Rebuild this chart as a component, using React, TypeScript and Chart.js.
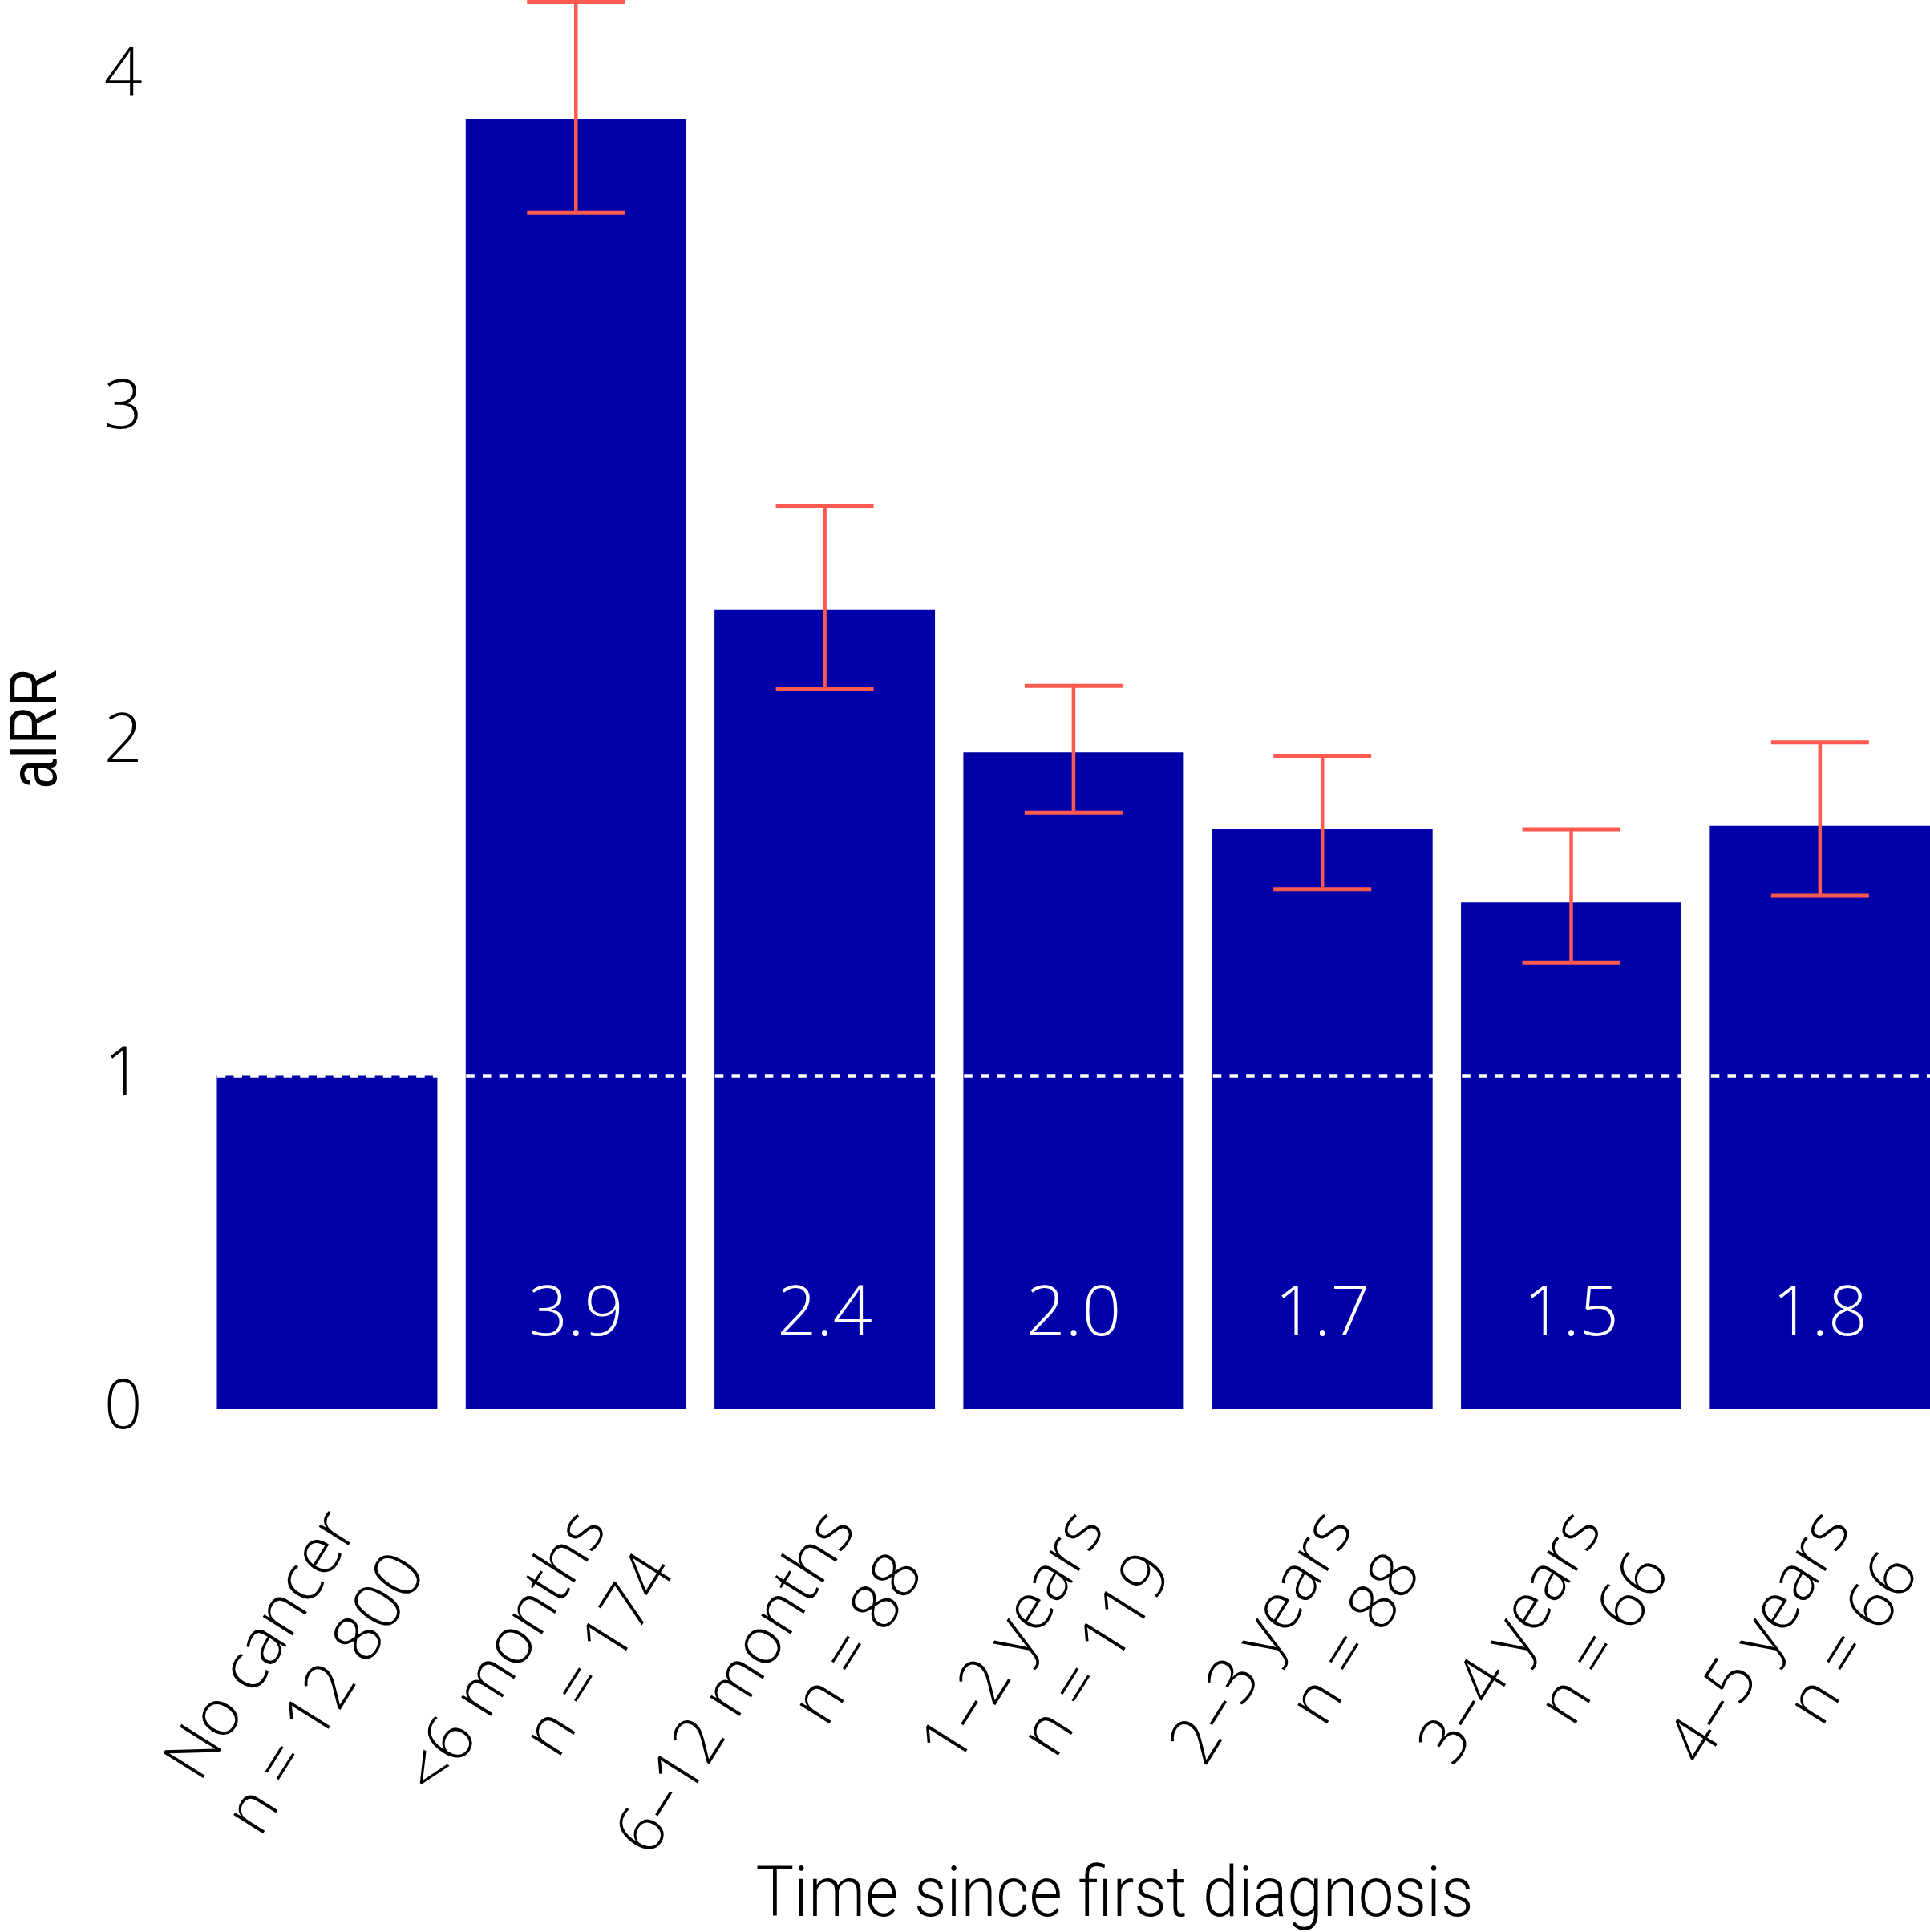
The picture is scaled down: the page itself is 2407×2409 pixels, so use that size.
import React, { useEffect, useRef } from "react";
import { Chart, registerables } from "chart.js";

Chart.register(...registerables);

// ---- Data ----
const categories: string[][] = [
  ["No cancer", "n = 12 800"],
  ["<6 months", "n = 174"],
  ["6–12 months", "n = 88"],
  ["1–2 years", "n = 119"],
  ["2–3 years", "n = 88"],
  ["3–4 years", "n = 66"],
  ["4–5 years", "n = 66"],
];
const airr = [1.0, 3.87, 2.4, 1.97, 1.74, 1.52, 1.75];
const ciLower: (number | null)[] = [null, 3.59, 2.16, 1.79, 1.56, 1.34, 1.54];
const ciUpper: (number | null)[] = [null, 4.222, 2.71, 2.17, 1.96, 1.74, 2.0];
const valueLabels = ["", "3.9", "2.4", "2.0", "1.7", "1.5", "1.8"];
const referenceValue = 1;
const xTitle = "Time since first diagnosis";
const yTitle = "aIRR";

// ---- Style ----
const BAR = "#0000A8";
const ERR = "#FF5A4F";
const LABEL_FONT = "'Open Sans', 'Liberation Sans', sans-serif";
const TITLE_FONT = "Roboto, 'Liberation Sans Narrow', sans-serif";
const YTITLE_FONT = "'Liberation Sans Narrow', 'Liberation Sans', sans-serif";

function drawFittedText(
  ctx: CanvasRenderingContext2D,
  text: string,
  x: number,
  y: number,
  font: string,
  width: number,
  rotate: number
) {
  ctx.save();
  ctx.font = font;
  ctx.fillStyle = "#000";
  ctx.textAlign = "center";
  ctx.textBaseline = "alphabetic";
  const w = ctx.measureText(text).width;
  ctx.translate(x, y);
  ctx.rotate(rotate);
  ctx.scale(width / w, 1);
  ctx.fillText(text, 0, 0);
  ctx.restore();
}

const overlay = {
  id: "overlay",
  afterDatasetsDraw(chart: any) {
    const { ctx, chartArea, scales } = chart;
    const y = scales.y;
    const meta = chart.getDatasetMeta(0);
    ctx.save();
    // reference dashed line at 1
    const yRef = y.getPixelForValue(referenceValue);
    ctx.strokeStyle = "#ffffff";
    ctx.lineWidth = 4.5;
    ctx.setLineDash([10.5, 10.2]);
    ctx.beginPath();
    ctx.moveTo(chartArea.left + 18, yRef);
    ctx.lineTo(chartArea.right, yRef);
    ctx.stroke();
    ctx.setLineDash([]);

    // error bars
    ctx.strokeStyle = ERR;
    ctx.lineCap = "butt";
    meta.data.forEach((bar: any, i: number) => {
      const lo = ciLower[i];
      const hi = ciUpper[i];
      if (lo == null || hi == null) return;
      const cx = bar.x;
      const yl = y.getPixelForValue(lo);
      const yu = y.getPixelForValue(hi);
      ctx.lineWidth = 4.5;
      ctx.beginPath();
      ctx.moveTo(cx, yu);
      ctx.lineTo(cx, yl);
      ctx.stroke();
      ctx.lineWidth = 5;
      ctx.beginPath();
      ctx.moveTo(cx - 61, yu);
      ctx.lineTo(cx + 61, yu);
      ctx.moveTo(cx - 61, yl);
      ctx.lineTo(cx + 61, yl);
      ctx.stroke();
    });

    // value labels inside bars
    ctx.fillStyle = "#ffffff";
    ctx.font = `350 86px ${LABEL_FONT}`;
    ctx.textAlign = "center";
    ctx.textBaseline = "alphabetic";
    const base = y.getPixelForValue(0);
    meta.data.forEach((bar: any, i: number) => {
      if (!valueLabels[i]) return;
      ctx.fillText(valueLabels[i], bar.x, base - 92);
    });
    ctx.restore();
  },
  afterDraw(chart: any) {
    const { ctx } = chart;
    drawFittedText(ctx, xTitle, 1390, 2389, `300 88px ${TITLE_FONT}`, 895, 0);
    drawFittedText(ctx, yTitle, 70, 908, `84px ${YTITLE_FONT}`, 150, -Math.PI / 2);
  },
};

export default function App() {
  const ref = useRef<HTMLCanvasElement>(null);
  useEffect(() => {
    const canvas = ref.current;
    if (!canvas) return;
    const chart = new Chart(canvas, {
      type: "bar",
      data: {
        labels: categories,
        datasets: [
          {
            data: airr,
            backgroundColor: BAR,
            borderWidth: 0,
            categoryPercentage: 1,
            barPercentage: 0.886,
          },
        ],
      },
      options: {
        animation: false,
        responsive: false,
        devicePixelRatio: 1,
        layout: { padding: 0 },
        plugins: {
          legend: { display: false },
          tooltip: { enabled: false },
          title: { display: false },
        },
        scales: {
          x: {
            grid: { display: false, drawTicks: false, tickLength: 0 },
            border: { display: false },
            ticks: {
              autoSkip: false,
              minRotation: 58,
              maxRotation: 58,
              padding: 110,
              labelOffset: 20,
              color: "#000",
              font: { family: LABEL_FONT, size: 82, weight: "350", lineHeight: 1.22 },
            },
            afterFit(s: any) {
              s.height = 652;
              s.paddingLeft = 0;
              s.paddingRight = 0;
            },
          },
          y: {
            min: 0,
            max: 4.228,
            grid: { display: false, drawTicks: false, tickLength: 0 },
            border: { display: false },
            ticks: {
              stepSize: 1,
              includeBounds: false,
              padding: 75,
              color: "#000",
              font: { family: LABEL_FONT, size: 84, weight: "350" },
            },
            afterFit(s: any) {
              s.width = 252.8;
              s.paddingTop = 0;
              s.paddingBottom = 0;
            },
          },
        },
      } as any,
      plugins: [overlay],
    });
    return () => chart.destroy();
  }, []);
  return (
    <div
      style={{
        position: "absolute",
        left: 0,
        top: 0,
        width: 2407,
        height: 2409,
        overflow: "hidden",
        background: "#fff",
      }}
    >
      <canvas
        ref={ref}
        width={2425}
        height={2409}
        style={{ display: "block", width: 2425, height: 2409 }}
      />
    </div>
  );
}
